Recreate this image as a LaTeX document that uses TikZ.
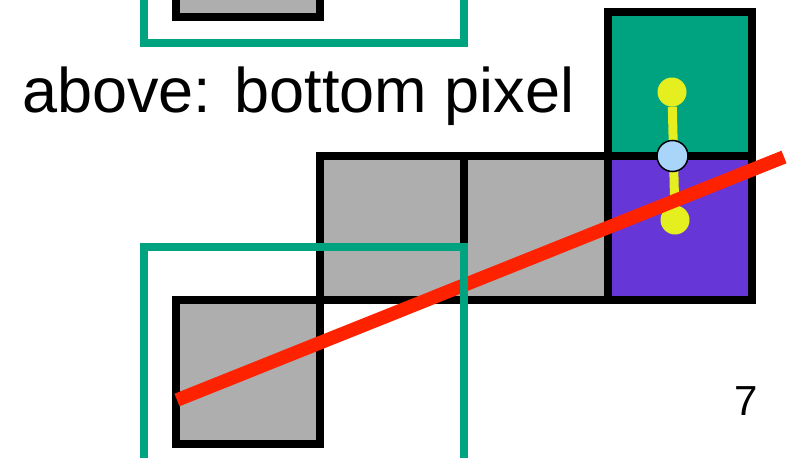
\documentclass[tikz,border=0pt]{standalone}
\usepackage{fontspec}
\setmainfont{Liberation Sans}
\usetikzlibrary{positioning}

\definecolor{pxgray}{RGB}{174,174,174}
\definecolor{pxgreen}{RGB}{0,163,128}
\definecolor{pxpurple}{RGB}{103,54,214}
\definecolor{rayred}{RGB}{255,34,0}
\definecolor{sampyellow}{RGB}{229,238,30}
\definecolor{crossblue}{RGB}{170,213,250}

\begin{document}
\begin{tikzpicture}[
  x=1pt, y=-1pt,
  cell/.style={draw, line width=8pt, fill=pxgray, inner sep=0pt, outer sep=0pt,
               minimum width=144pt, minimum height=144pt},
  frame/.style={draw=pxgreen, line width=8pt},
  ray/.style={draw=rayred, line width=13.5pt},
  sample/.style={circle, fill=sampyellow, inner sep=0pt, minimum size=29pt},
  cross/.style={circle, draw, line width=1.5pt, fill=crossblue, inner sep=0pt,
                minimum size=31pt},
  txt/.style={anchor=base west, inner sep=0pt},
]
\clip (0,0) rectangle (796,458);

% pixels
\node[cell] (prev) at (248,-55) {};
\node[cell] (low) at (248,372) {};
\node[cell, above right=0pt of low] (mid1) {};
\node[cell, right=0pt of mid1] (mid2) {};
\node[cell, fill=pxpurple, right=0pt of mid2] (hitpx) {};
\node[cell, fill=pxgreen, above=0pt of hitpx] (abovepx) {};

% samples
\node[sample] (upper) at (672,92) {};
\node[sample] (lower) at (675,220) {};
\draw[sampyellow, line width=9pt] (upper) -- (lower);

% line
\coordinate (start) at (177,400);
\coordinate (end) at (784,157);
\draw[ray] (start) -- (end);

\node[cross] (isect) at (672.5,156) {};

% bounding frames
\draw[frame] (144,-200) rectangle (464,43);
\draw[frame] (144,247) rectangle (464,700);

\node[txt, font=\fontsize{63}{72}\selectfont] (label) at (22,112) {above: bottom pixel};
\node[txt, font=\fontsize{42}{48}\selectfont] (pagenum) at (734,415) {7};
\end{tikzpicture}
\end{document}
